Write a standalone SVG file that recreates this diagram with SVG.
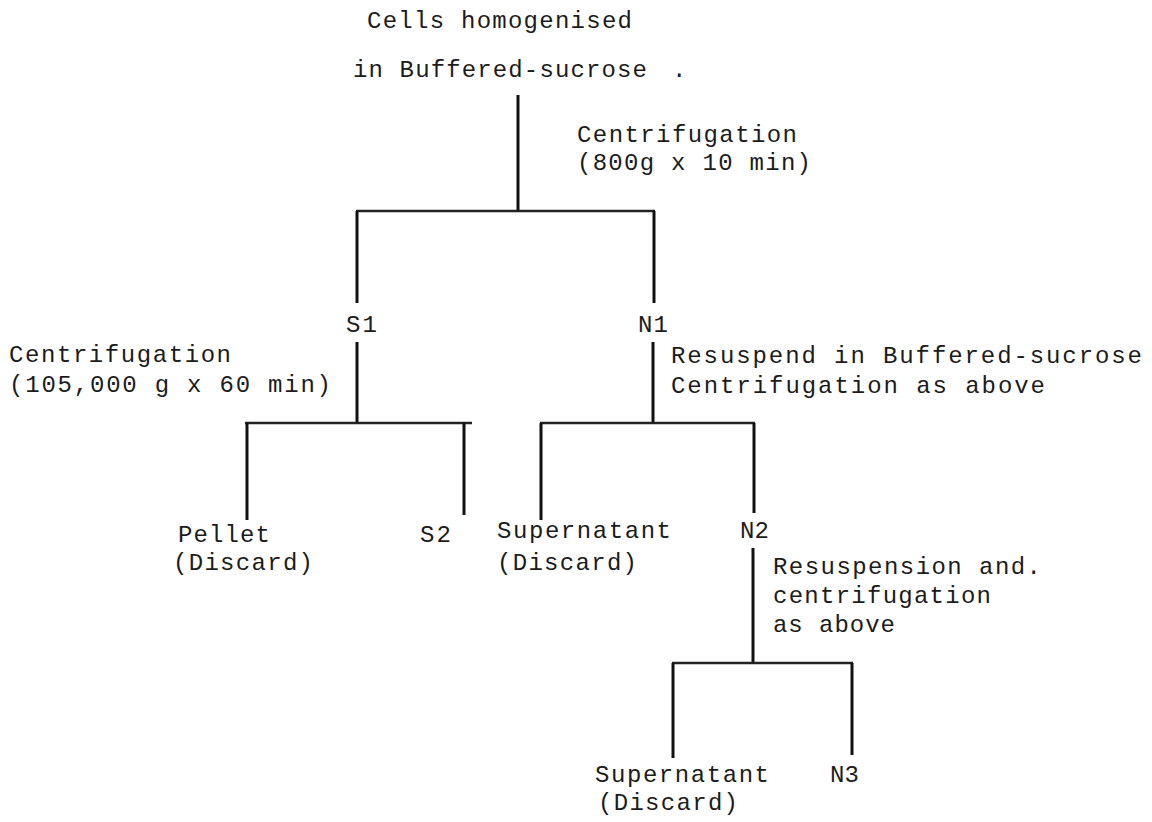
<svg xmlns="http://www.w3.org/2000/svg" width="1152" height="822" viewBox="0 0 1152 822">
<style>
text{font-family:"Liberation Mono","Courier New",monospace;font-size:24px;fill:#1c1c1c}
.v{stroke:#111;stroke-width:3;fill:none}
.h{stroke:#222;stroke-width:2.4;fill:none}
</style>
<rect width="1152" height="822" fill="#fff"/>
<g id="connectors">
<line class="v" x1="518" y1="95" x2="518" y2="211"/>
<line class="h" x1="356" y1="211" x2="655" y2="211"/>
<line class="v" x1="357" y1="211" x2="357" y2="303"/>
<line class="v" x1="654" y1="211" x2="654" y2="303"/>
<line class="v" x1="357" y1="342" x2="357" y2="423"/>
<line class="v" x1="653" y1="342" x2="653" y2="423"/>
<line class="h" x1="245" y1="423" x2="472" y2="423"/>
<line class="v" x1="247" y1="423" x2="247" y2="520"/>
<line class="v" x1="464" y1="423" x2="464" y2="515"/>
<line class="h" x1="540" y1="423" x2="755" y2="423"/>
<line class="v" x1="541" y1="423" x2="541" y2="520"/>
<line class="v" x1="754" y1="423" x2="754" y2="513"/>
<line class="v" x1="753" y1="548" x2="753" y2="663"/>
<line class="h" x1="672" y1="663" x2="853" y2="663"/>
<line class="v" x1="673" y1="663" x2="673" y2="758"/>
<line class="v" x1="852" y1="663" x2="852" y2="755"/>
</g>
<g id="start">
<text x="367" y="28" textLength="265">Cells homogenised</text>
<text x="353" y="77" textLength="294">in Buffered-sucrose</text>
<text x="672" y="77">.</text>
</g>
<g id="step1">
<text x="577" y="142" textLength="220">Centrifugation</text>
<text x="577" y="170" textLength="234">(800g x 10 min)</text>
</g>
<g id="S1"><text x="346" y="332" textLength="31">S1</text></g>
<g id="N1"><text x="638" y="332" textLength="30">N1</text></g>
<g id="step2">
<text x="9" y="362" textLength="222">Centrifugation</text>
<text x="9" y="392" textLength="322">(105,000 g x 60 min)</text>
</g>
<g id="step3">
<text x="671" y="363" textLength="471">Resuspend in Buffered-sucrose</text>
<text x="671" y="393" textLength="374">Centrifugation as above</text>
</g>
<g id="pellet">
<text x="178" y="542" textLength="92">Pellet</text>
<text x="173" y="570" textLength="140">(Discard)</text>
</g>
<g id="S2"><text x="420" y="542" textLength="31">S2</text></g>
<g id="supernatant1">
<text x="497" y="538" textLength="174">Supernatant</text>
<text x="497" y="570" textLength="140">(Discard)</text>
</g>
<g id="N2"><text x="740" y="538" textLength="29">N2</text></g>
<g id="step4">
<text x="773" y="574" textLength="268">Resuspension and.</text>
<text x="773" y="603" textLength="218">centrifugation</text>
<text x="773" y="632" textLength="122">as above</text>
</g>
<g id="supernatant2">
<text x="595" y="782" textLength="174">Supernatant</text>
<text x="598" y="810" textLength="140">(Discard)</text>
</g>
<g id="N3"><text x="830" y="782" textLength="29">N3</text></g>
</svg>
